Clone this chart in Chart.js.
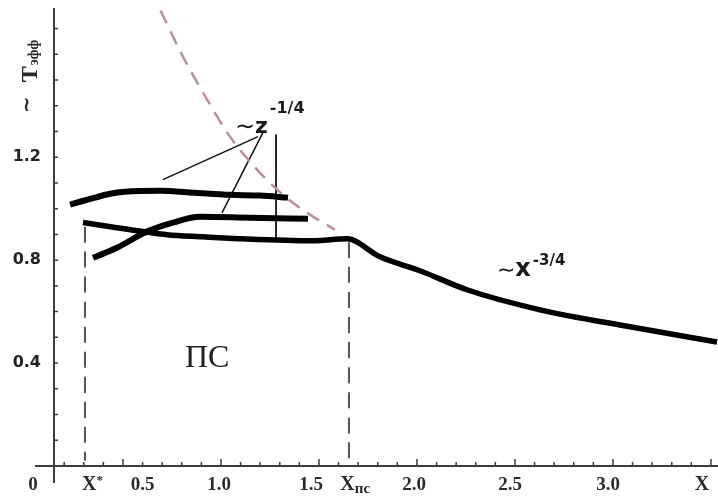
<!DOCTYPE html>
<html lang="ru">
<head>
<meta charset="utf-8">
<title>T эфф</title>
<script src="https://cdn.jsdelivr.net/npm/chart.js@4.4.1/dist/chart.umd.min.js"></script>
<style>
    html, body { margin: 0; padding: 0; background: #fff; overflow: hidden; }
    canvas { display: block; }
</style>
</head>
<body>
<canvas id="tempChart" width="718" height="496"></canvas>
<script>
// --- Data ---
const topX = [0.23, 0.28, 0.357, 0.434, 0.51, 0.689, 0.867, 1.046, 1.199, 1.342];
const topY = [1.016, 1.027, 1.043, 1.058, 1.066, 1.07, 1.062, 1.054, 1.051, 1.043];

const midX = [0.347, 0.469, 0.622, 0.755, 0.893, 1.148, 1.444];
const midY = [0.809, 0.848, 0.911, 0.946, 0.969, 0.965, 0.961];

// lower curve runs to X_pc and then falls as ~x^-3/4
const lowX = [0.296, 0.469, 0.638, 0.724, 0.893, 1.097, 1.469, 1.643, 1.811, 2.015, 2.255, 2.628, 3.087, 3.531];
const lowY = [0.946, 0.926, 0.907, 0.899, 0.891, 0.883, 0.875, 0.883, 0.813, 0.759, 0.685, 0.607, 0.541, 0.482];

const pinkX = [0.64, 0.689, 0.806, 0.929, 1.046, 1.184, 1.316, 1.454, 1.582];
const pinkY = [1.85, 1.774, 1.591, 1.424, 1.28, 1.152, 1.054, 0.977, 0.918];

const xStar = 0.306, xStarTop = 0.93;
const xPc = 1.653, xPcTop = 0.87;

// leader lines from the ~z^-1/4 label
const leader1X = [1.189, 0.704], leader1Y = [1.28, 1.113];
const leader2X = [1.214, 1.005], leader2Y = [1.296, 0.984];
const leader3X = [1.281, 1.281], leader3Y = [1.288, 0.887];

// tick labels
const xLabelPos = [0.6, 0.99, 1.46, 1.985, 2.475, 2.975];
const xLabelText = ['0.5', '1.0', '1.5', '2.0', '2.5', '3.0'];
const yLabelPos = [0.4, 0.8, 1.2];

const xMin = 0.148, xMax = 3.536, yMin = 0, yMax = 1.78;

function toPoints(xs, ys) {
    return xs.map((x, i) => ({ x: x, y: ys[i] }));
}

function lineSet(xs, ys, color, width, dash) {
    return {
        data: toPoints(xs, ys),
        borderColor: color,
        borderWidth: width,
        borderDash: dash || [],
        pointRadius: 0,
        fill: false,
        cubicInterpolationMode: 'monotone',
        borderCapStyle: 'butt',
        borderJoinStyle: 'round'
    };
}

// --- Axes drawn through the origin, small inner ticks, formula labels ---
function drawSup(ctx, x, y, parts) {
    let cx = x;
    parts.forEach(p => {
        ctx.font = p.font;
        ctx.fillText(p.text, cx, y - (p.rise || 0));
        cx += ctx.measureText(p.text).width + (p.gap || 0);
    });
}

function noPadding(scale) {
    scale.paddingTop = 0;
    scale.paddingBottom = 0;
    scale.paddingLeft = 0;
    scale.paddingRight = 0;
}

const axesPlugin = {
    id: 'axesPlugin',
    beforeDatasetsDraw(chart) {
        const { ctx, scales: { x, y } } = chart;
        const x0 = x.getPixelForValue(xMin);
        const y0 = y.getPixelForValue(0);
        ctx.save();
        ctx.strokeStyle = '#3c3c3c';
        ctx.lineWidth = 2;
        ctx.beginPath();
        ctx.moveTo(x0 - 19, y0);
        ctx.lineTo(chart.width, y0);
        ctx.moveTo(x0, y.getPixelForValue(yMax));
        ctx.lineTo(x0, y0 + 17);
        ctx.stroke();

        ctx.lineWidth = 1.5;
        ctx.beginPath();
        for (let i = 2; i <= 35; i++) {
            const px = x.getPixelForValue(i / 10);
            const len = i % 5 === 0 ? 7 : 4;
            ctx.moveTo(px, y0);
            ctx.lineTo(px, y0 - len);
        }
        for (let i = 1; i <= 17; i++) {
            const py = y.getPixelForValue(i / 10);
            ctx.moveTo(x0, py);
            ctx.lineTo(x0 + 4, py);
        }
        ctx.stroke();
        ctx.restore();
    },
    afterDraw(chart) {
        const { ctx, scales: { x, y } } = chart;
        const x0 = x.getPixelForValue(xMin);
        const y0 = y.getPixelForValue(0);
        const base = y0 + 24;
        const serifB = 'bold 19px "Liberation Serif"';
        ctx.save();
        ctx.fillStyle = '#2a2a2a';
        ctx.textBaseline = 'alphabetic';

        // special x labels
        ctx.textAlign = 'center';
        ctx.font = serifB;
        ctx.fillText('0', x0 - 21, base);
        ctx.textAlign = 'left';
        drawSup(ctx, x.getPixelForValue(0.332) - 8, base, [
            { text: 'X', font: 'bold 20px "Liberation Serif"' },
            { text: '*', font: 'bold 13px "Liberation Serif"', rise: 6 }
        ]);
        drawSup(ctx, x.getPixelForValue(1.65) - 8, base, [
            { text: 'X', font: 'bold 20px "Liberation Serif"' },
            { text: 'пс', font: 'bold 15px "Liberation Serif"', rise: -3 }
        ]);
        ctx.textAlign = 'center';
        ctx.font = 'bold 20px "Liberation Serif"';
        ctx.fillText('X', x.getPixelForValue(3.454), base);

        // y axis title "~ Tэфф"
        ctx.save();
        ctx.translate(37, 113);
        ctx.rotate(-Math.PI / 2);
        ctx.textAlign = 'left';
        drawSup(ctx, 0, 0, [
            { text: '∼', font: 'bold 20px "DejaVu Sans"', rise: 4, gap: 14 },
            { text: 'T', font: 'bold 24px "Liberation Serif"', gap: 1 },
            { text: 'эфф', font: 'bold 14px "Liberation Serif"', rise: -1 }
        ]);
        ctx.restore();

        // formula labels
        ctx.textAlign = 'left';
        ctx.fillStyle = '#1a1a1a';
        drawSup(ctx, x.getPixelForValue(1.071), y.getPixelForValue(1.296), [
            { text: '∼', font: '24px "DejaVu Sans"', rise: -1 },
            { text: 'z', font: 'bold 22px "DejaVu Sans"', gap: 2 },
            { text: '-1/4', font: 'bold 16px "DejaVu Sans"', rise: 20 }
        ]);
        drawSup(ctx, x.getPixelForValue(2.408), y.getPixelForValue(0.739), [
            { text: '∼', font: '22px "DejaVu Sans"', rise: -1 },
            { text: 'x', font: 'bold 24px "DejaVu Sans"', gap: 2 },
            { text: '-3/4', font: 'bold 15px "DejaVu Sans"', rise: 11 }
        ]);
        ctx.font = '32px "Liberation Serif"';
        ctx.fillStyle = '#222';
        ctx.fillText('ПС', x.getPixelForValue(0.816), y.getPixelForValue(0.385));
        ctx.restore();
    }
};

const ctxTemp = document.getElementById('tempChart').getContext('2d');
const tempChart = new Chart(ctxTemp, {
    type: 'line',
    data: {
        datasets: [
            lineSet(topX, topY, '#000', 6),
            lineSet(midX, midY, '#000', 6),
            lineSet(lowX, lowY, '#000', 5.5),
            lineSet(pinkX, pinkY, '#b98f9b', 2.5, [14, 9]),
            lineSet([xStar, xStar], [xStarTop, 0.02], '#555', 2, [16, 9]),
            lineSet([xPc, xPc], [xPcTop, 0.02], '#555', 2, [16, 9]),
            lineSet(leader1X, leader1Y, '#111', 1.5),
            lineSet(leader2X, leader2Y, '#111', 1.5),
            lineSet(leader3X, leader3Y, '#111', 1.8)
        ]
    },
    options: {
        responsive: false,
        animation: false,
        devicePixelRatio: 1,
        layout: { padding: { top: 8, right: 0, left: 0, bottom: 0 } },
        plugins: { legend: { display: false }, tooltip: { enabled: false } },
        scales: {
            x: {
                type: 'linear',
                min: xMin,
                max: xMax,
                grid: { display: false },
                border: { display: false },
                afterFit: scale => { scale.height = 30; noPadding(scale); },
                afterBuildTicks: scale => { scale.ticks = xLabelPos.map(v => ({ value: v })); },
                ticks: {
                    autoSkip: false,
                    maxRotation: 0,
                    padding: 0,
                    color: '#2a2a2a',
                    font: { family: 'Liberation Serif', size: 19, weight: 'bold' },
                    callback: (v, i) => xLabelText[i]
                }
            },
            y: {
                type: 'linear',
                min: yMin,
                max: yMax,
                grid: { display: false },
                border: { display: false },
                afterFit: scale => { scale.width = 54; noPadding(scale); },
                afterBuildTicks: scale => { scale.ticks = yLabelPos.map(v => ({ value: v })); },
                ticks: {
                    padding: 5,
                    color: '#222',
                    font: { family: 'DejaVu Sans', size: 16, weight: 'bold' },
                    callback: v => v.toFixed(1)
                }
            }
        }
    },
    plugins: [axesPlugin]
});
</script>
</body>
</html>
